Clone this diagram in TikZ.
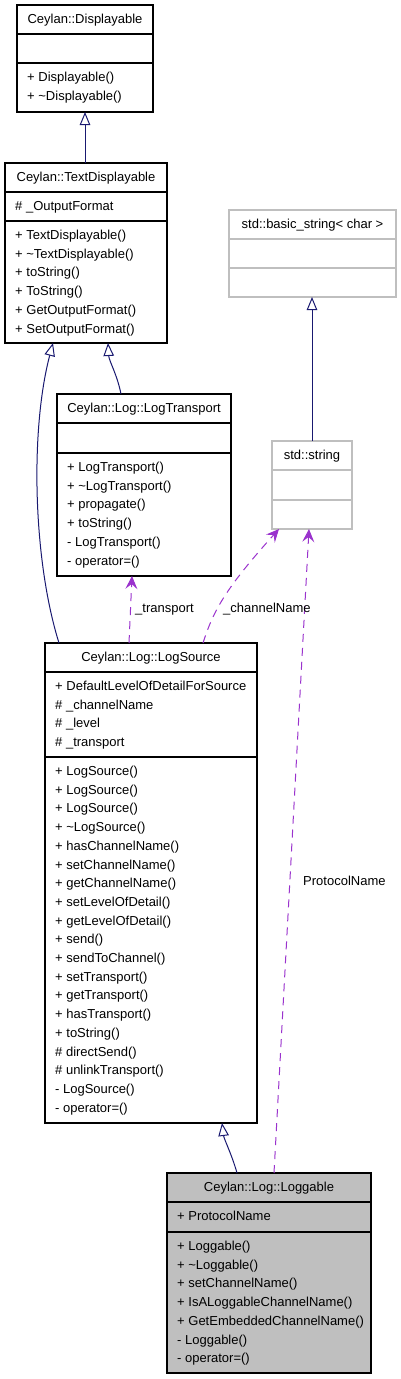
\documentclass[tikz,border=0pt]{standalone}
\usepackage{fontspec}
\setmainfont{Liberation Sans}
\usepackage{tikz}
\usetikzlibrary{calc}
\usetikzlibrary{arrows.meta}
\definecolor{edgeblue}{HTML}{191970}
\definecolor{edgepurple}{HTML}{9A32CD}
\definecolor{boxgray}{HTML}{BFBFBF}

\begin{document}
\begin{tikzpicture}[x=1pt,y=-1pt]

\tikzset{
classbox/.style={draw=black, line width=1.1pt, rectangle, inner sep=0pt, outer sep=0pt, anchor=north west},
extbox/.style={classbox, draw=boxgray},
sepline/.style={line width=1.4pt},
title/.style={font=\fontsize{13}{15}\selectfont, inner sep=0pt, anchor=base},
member/.style={font=\fontsize{13}{15}\selectfont, inner sep=0pt, anchor=base west},
inherit/.style={draw=edgeblue, line width=1pt, -{Triangle[open, length=13pt, width=10.5pt]}},
usage/.style={draw=edgepurple, line width=1pt, dash pattern=on 8pt off 6pt, -{Stealth[length=13pt, width=12pt, inset=5pt]}}
}

\useasboundingbox (0,0) rectangle (400,1379);

\def\lh{18.7}
\def\first{18.5}

%%% Ceylan::Displayable
\node[classbox, minimum width=136pt, minimum height=107pt] (disp) at (17,5) {};
\node[title] (disp-t) at ($(disp.north)+(0,\first)$) {Ceylan::Displayable};
\draw[sepline] ($(disp.north west)+(0,29)$) -- ($(disp.north east)+(0,29)$);
\draw[sepline] ($(disp.north west)+(0,58)$) -- ($(disp.north east)+(0,58)$);
\foreach \m [count=\i] in {+ Displayable(), + \textasciitilde Displayable()}
  \node[member] (disp-m\i) at ($(disp.north west)+(10,{58+\first+(\i-1)*\lh})$) {\m};

%%% Ceylan::TextDisplayable
\node[classbox, minimum width=162pt, minimum height=180pt] (txt) at (5,163) {};
\node[title] (txt-t) at ($(txt.north)+(0,\first)$) {Ceylan::TextDisplayable};
\draw[sepline] ($(txt.north west)+(0,29)$) -- ($(txt.north east)+(0,29)$);
\draw[sepline] ($(txt.north west)+(0,58)$) -- ($(txt.north east)+(0,58)$);
\node[member] (txt-a1) at ($(txt.north west)+(10,29+\first)$) {\# \_OutputFormat};
\foreach \m [count=\i] in {+ TextDisplayable(), + \textasciitilde TextDisplayable(), + toString(), + ToString(), + GetOutputFormat(), + SetOutputFormat()}
  \node[member] (txt-m\i) at ($(txt.north west)+(10,{58+\first+(\i-1)*\lh})$) {\m};

%%% Ceylan::Log::LogTransport
\node[classbox, minimum width=174pt, minimum height=182pt] (trans) at (57,394) {};
\node[title] (trans-t) at ($(trans.north)+(0,\first)$) {Ceylan::Log::LogTransport};
\draw[sepline] ($(trans.north west)+(0,29)$) -- ($(trans.north east)+(0,29)$);
\draw[sepline] ($(trans.north west)+(0,59)$) -- ($(trans.north east)+(0,59)$);
\foreach \m [count=\i] in {+ LogTransport(), + \textasciitilde LogTransport(), + propagate(), + toString(), - LogTransport(), - operator=()}
  \node[member] (trans-m\i) at ($(trans.north west)+(10,{59+\first+(\i-1)*\lh})$) {\m};

%%% std::basic_string< char >
\node[extbox, minimum width=167pt, minimum height=87pt] (bstr) at (229,210) {};
\node[title] (bstr-t) at ($(bstr.north)+(0,\first)$) {std::basic\_string< char >};
\draw[sepline, draw=boxgray] ($(bstr.north west)+(0,29)$) -- ($(bstr.north east)+(0,29)$);
\draw[sepline, draw=boxgray] ($(bstr.north west)+(0,58)$) -- ($(bstr.north east)+(0,58)$);

%%% std::string
\node[extbox, minimum width=80pt, minimum height=88pt] (str) at (272,441) {};
\node[title] (str-t) at ($(str.north)+(0,\first)$) {std::string};
\draw[sepline, draw=boxgray] ($(str.north west)+(0,29)$) -- ($(str.north east)+(0,29)$);
\draw[sepline, draw=boxgray] ($(str.north west)+(0,59)$) -- ($(str.north east)+(0,59)$);

%%% Ceylan::Log::LogSource
\node[classbox, minimum width=212pt, minimum height=480pt] (src) at (45,643) {};
\node[title] (src-t) at ($(src.north)+(0,\first)$) {Ceylan::Log::LogSource};
\draw[sepline] ($(src.north west)+(0,29)$) -- ($(src.north east)+(0,29)$);
\draw[sepline] ($(src.north west)+(0,114)$) -- ($(src.north east)+(0,114)$);
\foreach \m [count=\i] in {+ DefaultLevelOfDetailForSource, \# \_channelName, \# \_level, \# \_transport}
  \node[member] (src-a\i) at ($(src.north west)+(10,{29+\first+(\i-1)*\lh})$) {\m};
\foreach \m [count=\i] in {+ LogSource(), + LogSource(), + LogSource(), + \textasciitilde LogSource(), + hasChannelName(), + setChannelName(), + getChannelName(), + setLevelOfDetail(), + getLevelOfDetail(), + send(), + sendToChannel(), + setTransport(), + getTransport(), + hasTransport(), + toString(), \# directSend(), \# unlinkTransport(), - LogSource(), - operator=()}
  \node[member] (src-m\i) at ($(src.north west)+(10,{114+\first+(\i-1)*\lh})$) {\m};

%%% Ceylan::Log::Loggable
\node[classbox, fill=boxgray, minimum width=204pt, minimum height=200pt] (logg) at (167,1173) {};
\node[title] (logg-t) at ($(logg.north)+(0,\first)$) {Ceylan::Log::Loggable};
\draw[sepline] ($(logg.north west)+(0,29)$) -- ($(logg.north east)+(0,29)$);
\draw[sepline] ($(logg.north west)+(0,59)$) -- ($(logg.north east)+(0,59)$);
\node[member] (logg-a1) at ($(logg.north west)+(10,29+\first)$) {+ ProtocolName};
\foreach \m [count=\i] in {+ Loggable(), + \textasciitilde Loggable(), + setChannelName(), + IsALoggableChannelName(), + GetEmbeddedChannelName(), - Loggable(), - operator=()}
  \node[member] (logg-m\i) at ($(logg.north west)+(10,{59+\first+(\i-1)*\lh})$) {\m};

%%% inheritance
\draw[inherit] ([xshift=-1pt]txt.north) -- (disp.south);
\draw[inherit] ([xshift=-23pt]trans.north) .. controls +(-4,-20) and +(1,18) .. ([xshift=22pt]txt.south);
\draw[inherit] ([xshift=-92pt]src.north) .. controls +(-26,-83) and +(-23,87) .. ([xshift=-33pt]txt.south);
\draw[inherit] (str.north) -- (str.north |- bstr.south);
\draw[inherit] ([xshift=-32pt]logg.north) .. controls +(-5,-18) and +(2,16) .. ([xshift=71pt]src.south);

%%% usage
\draw[usage] ([xshift=-22pt]src.north) -- ([xshift=-12pt]trans.south);
\draw[usage] ([xshift=52pt]src.north) .. controls +(10,-31) and +(-55,61) .. ([xshift=-33pt]str.south);
\draw[usage] ([xshift=5pt]logg.north) -- ([xshift=-3pt]str.south);

\node[member] (lbl-transport) at (135,612) {\_transport};
\node[member] (lbl-channel) at (223,612) {\_channelName};
\node[member] (lbl-protocol) at (303,885) {ProtocolName};

\end{tikzpicture}
\end{document}
